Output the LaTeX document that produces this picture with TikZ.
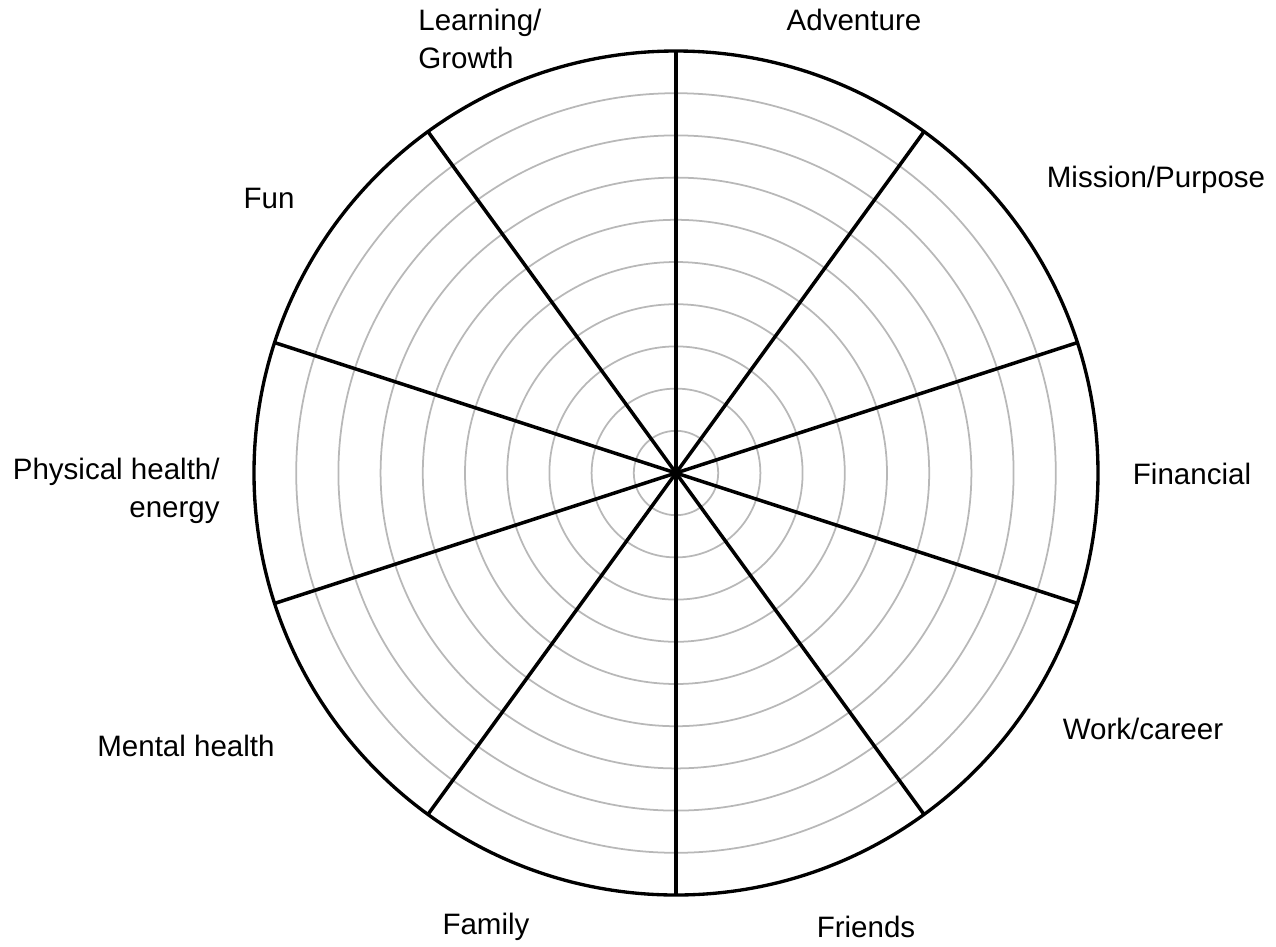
\documentclass[tikz,border=0pt]{standalone}
\usepackage{fontspec}
\setmainfont{Liberation Sans}
\usepackage{tikz}

\begin{document}
\begin{tikzpicture}[
  ring/.style={draw=black!28, line width=1pt},
  spoke/.style={draw=black, line width=2pt},
  rim/.style={draw=black, line width=1.9pt},
  area/.style={font=\fontsize{16.8}{21.5}\selectfont, inner sep=0pt}
]
\useasboundingbox (-13.52,-9.46) rectangle (12.0,9.46);
\coordinate (c) at (0,0);

% rings
\foreach \r in {1,...,9}
  \draw[ring] (c) circle ({0.844*\r});
\draw[rim] (c) circle (8.44);

% spokes every 36 degrees
\foreach \a in {90,54,18,-18,-54}
  \draw[spoke] (\a:8.44) -- (\a+180:8.44);

\node[area] (adv) at (3.56,9.06) {Adventure};
\node[area] (mission) at (9.60,5.86) {Mission/Purpose};
\node[area] (fin) at (10.32,-0.02) {Financial};
\node[area] (work) at (9.34,-5.12) {Work/career};
\node[area] (friends) at (3.80,-9.08) {Friends};
\node[area] (family) at (-3.80,-9.08) {Family};
\node[area] (mental) at (-9.80,-5.46) {Mental health};
\node[area, anchor=east, align=right] (phys) at (-9.12,-0.36) {Physical health/\\energy};
\node[area] (fun) at (-8.14,5.50) {Fun};
\node[area, anchor=west, align=left] (learn) at (-5.16,8.68) {Learning/\\Growth};
\end{tikzpicture}
\end{document}
